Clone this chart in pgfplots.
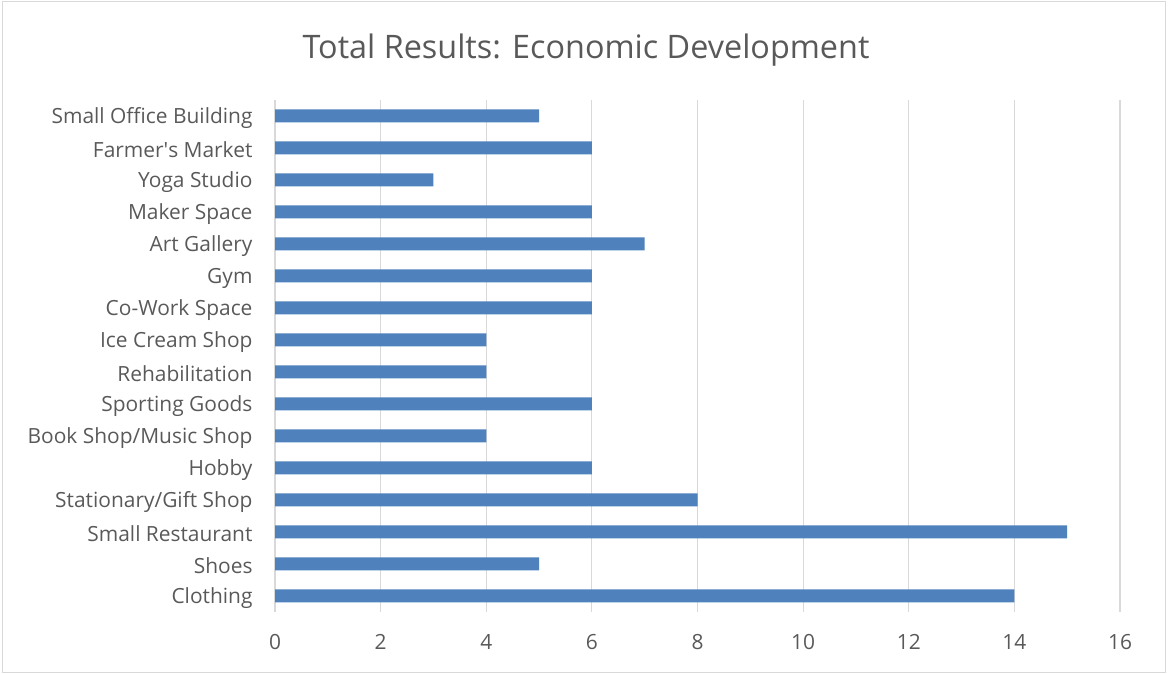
\documentclass[border=0pt]{standalone}
\usepackage{pgfplots}
\pgfplotsset{compat=1.18}
\usepackage{fontspec}
\setmainfont{Open Sans}
\definecolor{barblue}{HTML}{4F81BD}
\definecolor{txtgray}{HTML}{595959}
\definecolor{gridgray}{HTML}{D9D9D9}
\begin{document}
\begin{tikzpicture}[x=1bp,y=1bp]
\useasboundingbox (0,0) rectangle (1168,674);
\draw[gridgray, line width=1.2bp] (2.5,1.5) rectangle (1165.5,672.5);
\node[txtgray, font=\fontsize{32.5}{38}\selectfont] at (586,624) {Total Results: Economic Development};
\begin{axis}[
  at={(275bp,62bp)}, anchor=south west,
  scale only axis, width=845bp, height=512bp,
  xmin=0, xmax=16, ymin=-0.5, ymax=15.5,
  xtick={0,2,...,16},
  ytick={0,...,15},
  yticklabels={Clothing,Shoes,Small Restaurant,Stationary/Gift Shop,Hobby,Book Shop/Music Shop,Sporting Goods,Rehabilitation,Ice Cream Shop,Co-Work Space,Gym,Art Gallery,Maker Space,Yoga Studio,Farmer\textquotesingle s Market,Small Office Building},
  axis x line*=bottom, axis y line*=left,
  axis line style={draw=none},
  major tick length=0pt,
  xmajorgrids, grid style={gridgray, line width=1.2bp},
  tick label style={txtgray, font=\fontsize{21}{24}\selectfont},
  /pgf/number format/assume math mode=true,
  xticklabel style={yshift=-19bp},
  yticklabel style={xshift=-19bp, yshift=-2bp},
  xbar, bar width=13bp,
]
\addplot[fill=barblue, draw=none] coordinates {
(14,0) (5,1) (15,2) (8,3) (6,4) (4,5) (6,6) (4,7) (4,8) (6,9) (6,10) (7,11) (6,12) (3,13) (6,14) (5,15)};
\end{axis}
\end{tikzpicture}
\end{document}
